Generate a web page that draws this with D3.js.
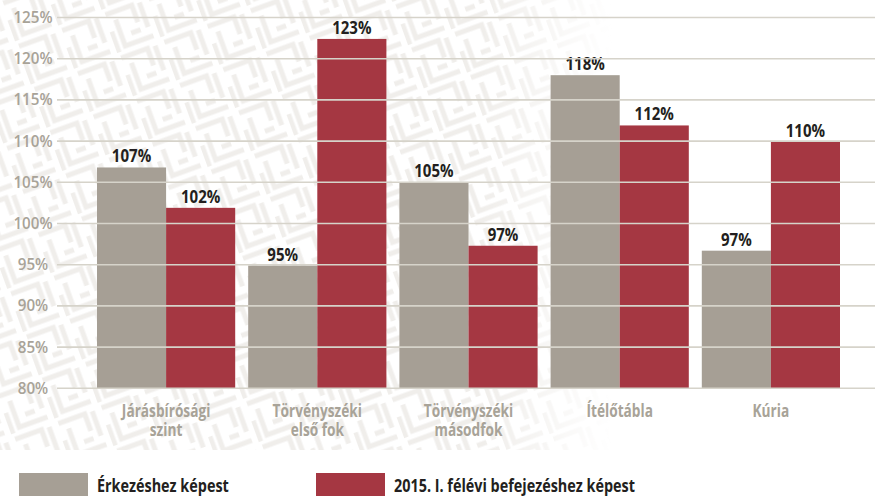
<!DOCTYPE html>
<html>
<head>
<meta charset="utf-8">
<script src="https://cdn.jsdelivr.net/npm/d3@7"></script>
<style>
  body { margin: 0; background: #fff; }
  svg { display: block; }
</style>
</head>
<body>
<svg id="chart" width="875" height="496"></svg>
<script>
  // data
  const categories = [["Járásbírósági", "szint"], ["Törvényszéki", "első fok"], ["Törvényszéki", "másodfok"], ["Ítélőtábla"], ["Kúria"]];
  const seriesNames = ["Érkezéshez képest", "2015. I. félévi befejezéshez képest"];
  const arrivals = [106.8, 94.9, 105.0, 118.0, 96.7];
  const completions = [101.9, 122.4, 97.3, 111.9, 109.9];
  const valueLabels = [["107%", "102%"], ["95%", "123%"], ["105%", "97%"], ["118%", "112%"], ["97%", "110%"]];
  const yTicks = [80, 85, 90, 95, 100, 105, 110, 115, 120, 125];

  const GREY = "#a69f95";
  const RED = "#a53742";
  const GRID = "#d6d3ca";
  const LABEL_GREY = "#a8a398";
  const FONT = "'Open Sans', sans-serif";

  const svg = d3.select("#chart");

  // squeeze text horizontally to mimic a condensed face
  function squeeze(sel, k) {
    sel.attr("transform", function () {
      const t = d3.select(this);
      const x = +t.attr("x"), y = +t.attr("y");
      return `translate(${x},${y}) scale(${k},1) translate(${-x},${-y})`;
    });
  }

  // faint maze-like watermark in the background, fading out to the right
  const defs = svg.append("defs");
  const pat = defs.append("pattern")
    .attr("id", "maze")
    .attr("width", 46).attr("height", 46)
    .attr("patternUnits", "userSpaceOnUse")
    .attr("patternTransform", "rotate(-20)");
  pat.append("path")
    .attr("d", "M2 4 H30 V22 M10 12 V40 H40 M20 30 H30 M38 4 V30 M2 22 V44")
    .attr("fill", "none")
    .attr("stroke", "#f0eeeb")
    .attr("stroke-width", 5);
  const grad = defs.append("linearGradient")
    .attr("id", "fade")
    .attr("gradientUnits", "userSpaceOnUse")
    .attr("x1", 0).attr("x2", 875).attr("y1", 0).attr("y2", 0);
  grad.append("stop").attr("offset", "0").attr("stop-color", "#fff");
  grad.append("stop").attr("offset", "0.55").attr("stop-color", "#fff");
  grad.append("stop").attr("offset", "0.7").attr("stop-color", "#000");
  const mask = defs.append("mask").attr("id", "fadeMask")
    .attr("maskUnits", "userSpaceOnUse")
    .attr("x", 0).attr("y", 0).attr("width", 875).attr("height", 450);
  mask.append("rect").attr("width", 875).attr("height", 450).attr("fill", "url(#fade)");
  svg.append("rect")
    .attr("width", 875).attr("height", 450)
    .attr("fill", "url(#maze)")
    .attr("mask", "url(#fadeMask)");

  const y = d3.scaleLinear().domain([80, 125]).range([388.3, 17.5]);

  const x0 = d3.scaleBand()
    .domain(d3.range(categories.length))
    .range([97, 840])
    .paddingInner(0.086)
    .paddingOuter(0);

  const x1 = d3.scaleBand()
    .domain([0, 1])
    .range([0, x0.bandwidth()]);

  const groups = svg.append("g")
    .selectAll("g")
    .data(categories.map((c, i) => ({ i, vals: [arrivals[i], completions[i]] })))
    .join("g")
    .attr("transform", d => `translate(${x0(d.i)},0)`);

  groups.selectAll("rect")
    .data(d => d.vals.map((v, s) => ({ v, s, i: d.i })))
    .join("rect")
    .attr("x", d => x1(d.s))
    .attr("y", d => y(d.v))
    .attr("width", x1.bandwidth())
    .attr("height", d => y(80) - y(d.v))
    .attr("fill", d => d.s === 0 ? GREY : RED);

  // gridlines sit on top of the bars
  svg.append("g")
    .selectAll("line")
    .data(yTicks)
    .join("line")
    .attr("x1", 57).attr("x2", 875)
    .attr("y1", d => y(d)).attr("y2", d => y(d))
    .attr("stroke", GRID)
    .attr("stroke-width", 1.6);

  const ticks = svg.append("g")
    .selectAll("text")
    .data(yTicks)
    .join("text")
    .attr("x", 33)
    .attr("y", d => y(d) + 5.5)
    .attr("text-anchor", "middle")
    .attr("font-family", FONT)
    .attr("font-weight", 600)
    .attr("font-size", "16px")
    .attr("fill", LABEL_GREY)
    .text(d => d + "%");
  squeeze(ticks, 0.95);

  // value labels
  const vals = groups.selectAll("text.val")
    .data(d => d.vals.map((v, s) => ({ v, s, i: d.i })))
    .join("text")
    .attr("class", "val")
    .attr("x", d => x1(d.s) + x1.bandwidth() / 2)
    .attr("y", d => y(d.v) - 5)
    .attr("text-anchor", "middle")
    .attr("font-family", FONT)
    .attr("font-weight", 700)
    .attr("font-size", "17.5px")
    .attr("fill", "#231f20")
    .text(d => valueLabels[d.i][d.s]);
  squeeze(vals, 0.86);

  // category labels
  const cats = groups.selectAll("text.cat")
    .data(d => categories[d.i].map((t, k) => ({ t, k })))
    .join("text")
    .attr("class", "cat")
    .attr("x", x0.bandwidth() / 2)
    .attr("y", d => 417 + d.k * 19)
    .attr("text-anchor", "middle")
    .attr("font-family", FONT)
    .attr("font-weight", 700)
    .attr("font-size", "18px")
    .attr("fill", LABEL_GREY)
    .text(d => d.t);
  squeeze(cats, 0.76);

  // legend
  const legendX = [19, 316];
  const legend = svg.append("g")
    .selectAll("g")
    .data(seriesNames)
    .join("g")
    .attr("transform", (d, i) => `translate(${legendX[i]},473)`);
  legend.append("rect")
    .attr("width", 69).attr("height", 23)
    .attr("fill", (d, i) => i === 0 ? GREY : RED);
  const legText = legend.append("text")
    .attr("x", 78).attr("y", 19.5)
    .attr("font-family", FONT)
    .attr("font-weight", 700)
    .attr("font-size", "18px")
    .attr("fill", "#231f20")
    .text(d => d);
  squeeze(legText, 0.8);
</script>
</body>
</html>
